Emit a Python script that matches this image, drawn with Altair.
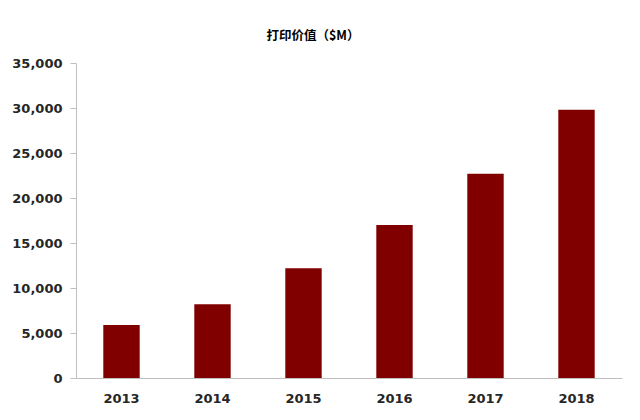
import altair as alt
import pandas as pd

years = ["2013", "2014", "2015", "2016", "2017", "2018"]
values = [5900, 8200, 12200, 17000, 22700, 29800]

df = pd.DataFrame({"year": years, "value": values})

chart = alt.Chart(df).mark_bar(color="#800000").encode(
    x=alt.X("year:N", sort=years, title=None,
            scale=alt.Scale(paddingInner=0.6, paddingOuter=0.3),
            axis=alt.Axis(labelAngle=0, ticks=False, domainColor="#bfbfbf",
                          labelFont="DejaVu Sans", labelFontWeight="bold",
                          labelFontSize=13, labelColor="#262626", labelPadding=14)),
    y=alt.Y("value:Q", title=None,
            scale=alt.Scale(domain=[0, 35000], nice=False),
            axis=alt.Axis(values=list(range(0, 35001, 5000)), format=",.0f",
                          grid=False, tickSize=6, tickColor="#bfbfbf", domainColor="#bfbfbf",
                          labelFont="DejaVu Sans", labelFontWeight="bold",
                          labelFontSize=13, labelColor="#262626", labelPadding=8)),
).properties(
    width=546, height=315,
    title=alt.TitleParams("打印价值（$M）", font="Noto Sans CJK SC", fontSize=12.5,
                          fontWeight="bold", color="#000000", dx=-36, offset=15),
    autosize=alt.AutoSizeParams(type="none"),
    padding={"left": 68, "top": 55, "right": 10, "bottom": 40},
).configure_view(stroke=None)

chart.save("out.html", embed_options={"renderer": "svg", "actions": False})
